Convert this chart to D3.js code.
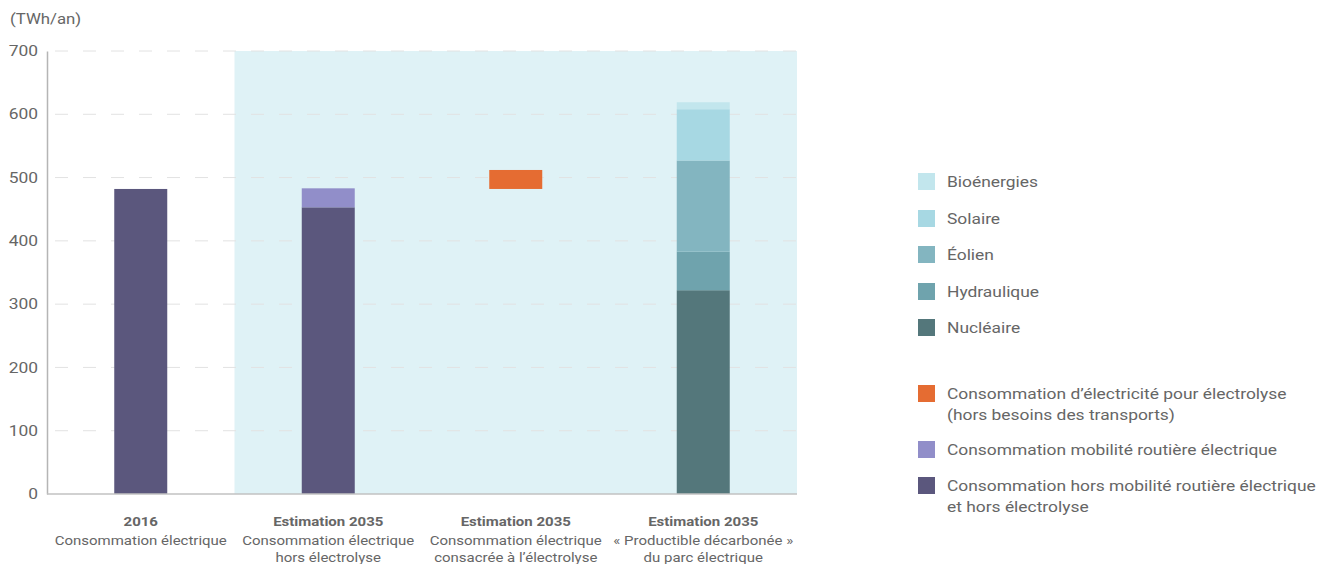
<!DOCTYPE html>
<html>
<head>
    <meta charset="UTF-8">
    <title></title>
    <style>
        body { margin: 0; background: #fff; }
        svg text { font-family: Roboto, "Noto Sans", sans-serif; }
    </style>
</head>
<body>
<div id="chart"></div>
<script src="https://cdn.jsdelivr.net/npm/d3@7/dist/d3.min.js"></script>
<script>
    // données (TWh/an)
    var categories = ["c2016", "c2035a", "c2035b", "c2035c"];
    var categoryTitles = ["2016", "Estimation 2035", "Estimation 2035", "Estimation 2035"];
    var categorySubtitles = [
        ["Consommation électrique"],
        ["Consommation électrique", "hors électrolyse"],
        ["Consommation électrique", "consacrée à l’électrolyse"],
        ["« Productible décarbonée »", "du parc électrique"]
    ];
    var horsMobilite = [482, 453, 0, 0];
    var mobilite = [0, 30, 0, 0];
    var electrolyseBase = [0, 0, 482, 0];
    var electrolyse = [0, 0, 30, 0];
    var nucleaire = [0, 0, 0, 322];
    var hydraulique = [0, 0, 0, 61];
    var eolien = [0, 0, 0, 144];
    var solaire = [0, 0, 0, 81];
    var bioenergies = [0, 0, 0, 11];
    var yTicks = [0, 100, 200, 300, 400, 500, 600, 700];

    var seriesKeys = ["horsMobilite", "mobilite", "electrolyseBase", "electrolyse",
        "nucleaire", "hydraulique", "eolien", "solaire", "bioenergies"];
    var seriesValues = {
        horsMobilite: horsMobilite, mobilite: mobilite, electrolyseBase: electrolyseBase,
        electrolyse: electrolyse, nucleaire: nucleaire, hydraulique: hydraulique,
        eolien: eolien, solaire: solaire, bioenergies: bioenergies
    };
    var colors = {
        horsMobilite: "#5b577d", mobilite: "#918ec9", electrolyseBase: "none",
        electrolyse: "#e56c32", nucleaire: "#54777b", hydraulique: "#6fa3ad",
        eolien: "#83b5c0", solaire: "#a7d8e3", bioenergies: "#c2e6ed"
    };

    var legend1 = [
        {key: "bioenergies", lines: ["Bioénergies"]},
        {key: "solaire", lines: ["Solaire"]},
        {key: "eolien", lines: ["Éolien"]},
        {key: "hydraulique", lines: ["Hydraulique"]},
        {key: "nucleaire", lines: ["Nucléaire"]}
    ];
    var legend2 = [
        {key: "electrolyse", lines: ["Consommation d’électricité pour électrolyse", "(hors besoins des transports)"]},
        {key: "mobilite", lines: ["Consommation mobilité routière électrique"]},
        {key: "horsMobilite", lines: ["Consommation hors mobilité routière électrique", "et hors électrolyse"]}
    ];

    var table = categories.map(function (c, i) {
        var row = {cat: c};
        seriesKeys.forEach(function (k) { row[k] = seriesValues[k][i]; });
        return row;
    });

    // le texte de l'original est un peu étiré horizontalement
    var sx = 1.2;

    var width = 1333, height = 564;
    var svg = d3.select("#chart").append("svg")
        .attr("width", width).attr("height", height);

    var x = d3.scaleBand().domain(categories).range([47, 797]).paddingInner(0).paddingOuter(0);
    var y = d3.scaleLinear().domain([0, 700]).range([494, 51]);
    var barW = 53;

    function stretchedText(parent, tx, ty) {
        return parent.append("text")
            .attr("transform", "translate(" + tx + "," + ty + ") scale(" + sx + ",1)");
    }

    // zone estimation 2035
    svg.append("rect")
        .attr("x", x("c2035a")).attr("y", y(700))
        .attr("width", x.range()[1] - x("c2035a")).attr("height", y(0) - y(700))
        .attr("fill", "#dff2f6");

    // grille
    svg.append("g").selectAll("line")
        .data(yTicks.filter(function (d) { return d > 0; }))
        .join("line")
        .attr("x1", 49).attr("x2", 797)
        .attr("y1", function (d) { return y(d); }).attr("y2", function (d) { return y(d); })
        .attr("stroke", "#e2e2e2").attr("stroke-width", 1)
        .attr("stroke-dasharray", "13,15").attr("stroke-dashoffset", -6);

    // barres
    var stack = d3.stack().keys(seriesKeys);
    var layers = stack(table);
    svg.append("g").selectAll("g")
        .data(layers)
        .join("g")
        .attr("fill", function (d) { return colors[d.key]; })
        .selectAll("rect")
        .data(function (d) { return d.filter(function (p) { return p[1] - p[0] > 0; }); })
        .join("rect")
        .attr("x", function (d) { return x(d.data.cat) + (x.bandwidth() - barW) / 2; })
        .attr("width", barW)
        .attr("y", function (d) { return y(d[1]); })
        .attr("height", function (d) { return y(d[0]) - y(d[1]); });

    // axes
    var yAxis = svg.append("g")
        .attr("transform", "translate(47,0)")
        .call(d3.axisLeft(y).tickValues(yTicks).tickSize(0).tickPadding(9));
    yAxis.select(".domain").attr("stroke", "#b5b5b5").attr("stroke-width", 1.5);
    yAxis.selectAll("text").attr("fill", "#666").attr("font-size", 14.5)
        .attr("x", -9 / sx)
        .attr("transform", "scale(" + sx + ",1)")
        .style("font-family", "Roboto, sans-serif");

    svg.append("line")
        .attr("x1", 47).attr("x2", 797).attr("y1", y(0)).attr("y2", y(0))
        .attr("stroke", "#c2c2c2").attr("stroke-width", 1.5);

    stretchedText(svg, 10, 24)
        .attr("fill", "#666").attr("font-size", 14).text("(TWh/an)");

    // libellés catégories
    var catG = svg.append("g").selectAll("g")
        .data(categories)
        .join("g")
        .attr("transform", function (d) { return "translate(" + (x(d) + x.bandwidth() / 2) + ",0)"; });
    catG.each(function (d, i) {
        var g = d3.select(this);
        stretchedText(g, 0, 526)
            .attr("text-anchor", "middle")
            .attr("font-size", 12.5).attr("font-weight", "bold").attr("fill", "#666")
            .text(categoryTitles[i]);
        categorySubtitles[i].forEach(function (s, j) {
            stretchedText(g, 0, 545 + j * 17)
                .attr("text-anchor", "middle").attr("font-size", 12.5).attr("fill", "#666")
                .text(s);
        });
    });

    // légende
    function drawLegend(items, yPositions) {
        var g = svg.append("g").selectAll("g")
            .data(items)
            .join("g")
            .attr("transform", function (d, i) { return "translate(918," + yPositions[i] + ")"; });
        g.append("rect")
            .attr("x", 0).attr("y", -11).attr("width", 17).attr("height", 17)
            .attr("fill", function (d) { return colors[d.key]; });
        g.each(function (d) {
            var row = d3.select(this);
            d.lines.forEach(function (s, j) {
                stretchedText(row, 29, 3 + j * 20.5)
                    .attr("font-size", 14.5).attr("fill", "#666")
                    .text(s);
            });
        });
    }
    drawLegend(legend1, [184, 221, 257, 294, 330]);
    drawLegend(legend2, [396, 452, 488]);
</script>
</body>
</html>
